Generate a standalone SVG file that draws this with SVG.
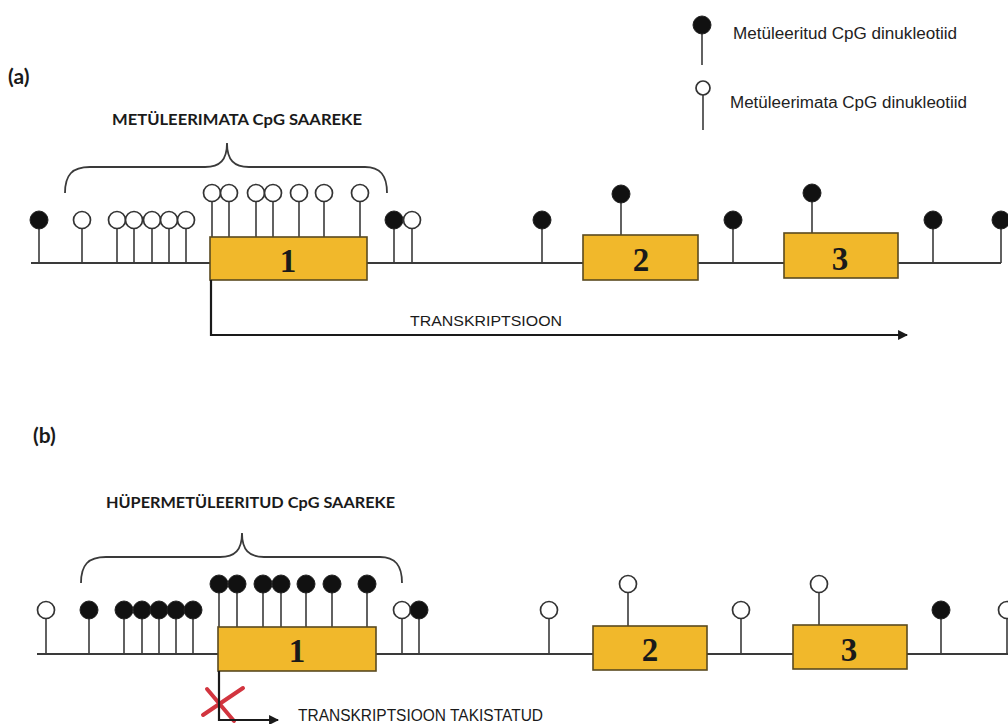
<svg xmlns="http://www.w3.org/2000/svg" width="1008" height="724" viewBox="0 0 1008 724">
<defs>
<style>
.bg{fill:#ffffff}
.dna{stroke:#3a3a3a;stroke-width:1.8;fill:none}
.stem{stroke:#3a3a3a;stroke-width:1.6}
.met{fill:#111111;stroke:#222222;stroke-width:1}
.unm{fill:#ffffff;stroke:#333333;stroke-width:1.7}
.exon{fill:#F1B82B;stroke:#5a4a20;stroke-width:1.6}
.num{font-family:"Liberation Serif","Times New Roman",serif;font-weight:bold;font-size:33px;fill:#1a1a1a;text-anchor:middle}
.lbl{font-family:"Lato","Open Sans",sans-serif;font-weight:bold;fill:#1a1a1a}
.leg{font-family:"Liberation Sans",Arial,sans-serif;font-size:16px;fill:#222222}
.tx{font-family:"Liberation Sans",Arial,sans-serif;fill:#1a1a1a}
.brace{stroke:#3a3a3a;stroke-width:1.8;fill:none}
.arr{stroke:#1a1a1a;stroke-width:2.2;fill:none}
.cross{stroke:#d2353f;stroke-width:4;stroke-linecap:round}
</style>
<marker id="ah" viewBox="0 0 10 10" refX="9" refY="5" markerWidth="4.5" markerHeight="4.5" orient="auto" markerUnits="strokeWidth">
<path d="M0,0 L10,5 L0,10 z" fill="#1a1a1a"/>
</marker>
</defs>
<rect class="bg" x="0" y="0" width="1008" height="724"/>

<g id="legend">
<g id="legend-met">
<line class="stem" x1="702" y1="32" x2="702" y2="65"/>
<circle class="met" cx="702" cy="25" r="9"/>
<text class="leg" x="733" y="39" textLength="224" lengthAdjust="spacingAndGlyphs">Metüleeritud CpG dinukleotiid</text>
</g>
<g id="legend-unmet">
<line class="stem" x1="703" y1="95" x2="703" y2="130"/>
<circle class="unm" cx="703" cy="88" r="7"/>
<text class="leg" x="730" y="108" textLength="237" lengthAdjust="spacingAndGlyphs">Metüleerimata CpG dinukleotiid</text>
</g>
</g>

<!-- Panel (a) -->
<g id="panel-a">
<text id="label-a" class="lbl" x="8" y="84" font-size="21">(a)</text>
<g id="island-a">
<text class="lbl" x="112" y="125" font-size="16" textLength="250" lengthAdjust="spacingAndGlyphs">METÜLEERIMATA CpG SAAREKE</text>
<path class="brace" d="M65,193 C65,175 72,167 90,167 L205,167 C220,167 227,160 227,143 C227,160 234,167 249,167 L365,167 C380,167 387,175 387,193"/>
</g>
<line id="dna-a" class="dna" x1="31" y1="263" x2="1001" y2="263"/>
<g id="cpg-a">
<line class="stem" x1="39" y1="225" x2="39" y2="263"/><circle class="met" cx="39" cy="220" r="9"/>
<line class="stem" x1="82" y1="225" x2="82" y2="263"/><circle class="unm" cx="82" cy="220" r="8.5"/>
<line class="stem" x1="117" y1="225" x2="117" y2="263"/>
<line class="stem" x1="134" y1="225" x2="134" y2="263"/>
<line class="stem" x1="152" y1="225" x2="152" y2="263"/>
<line class="stem" x1="169" y1="225" x2="169" y2="263"/>
<line class="stem" x1="186" y1="225" x2="186" y2="263"/>
<circle class="unm" cx="117" cy="220" r="8.5"/>
<circle class="unm" cx="134" cy="220" r="8.5"/>
<circle class="unm" cx="152" cy="220" r="8.5"/>
<circle class="unm" cx="169" cy="220" r="8.5"/>
<circle class="unm" cx="186" cy="220" r="8.5"/>
<line class="stem" x1="212" y1="198" x2="212" y2="237"/>
<line class="stem" x1="229" y1="198" x2="229" y2="237"/>
<line class="stem" x1="256" y1="198" x2="256" y2="237"/>
<line class="stem" x1="273" y1="198" x2="273" y2="237"/>
<line class="stem" x1="299" y1="198" x2="299" y2="237"/>
<line class="stem" x1="324" y1="198" x2="324" y2="237"/>
<line class="stem" x1="360" y1="198" x2="360" y2="237"/>
<circle class="unm" cx="212" cy="193" r="8.5"/>
<circle class="unm" cx="229" cy="193" r="8.5"/>
<circle class="unm" cx="256" cy="193" r="8.5"/>
<circle class="unm" cx="273" cy="193" r="8.5"/>
<circle class="unm" cx="299" cy="193" r="8.5"/>
<circle class="unm" cx="324" cy="193" r="8.5"/>
<circle class="unm" cx="360" cy="193" r="8.5"/>
<line class="stem" x1="394" y1="225" x2="394" y2="263"/>
<line class="stem" x1="412" y1="225" x2="412" y2="263"/>
<circle class="met" cx="394" cy="220" r="9"/>
<circle class="unm" cx="412" cy="220" r="8.5"/>
<line class="stem" x1="542" y1="225" x2="542" y2="263"/><circle class="met" cx="542" cy="220" r="9"/>
<line class="stem" x1="621" y1="198" x2="621" y2="235"/><circle class="met" cx="621" cy="194" r="9"/>
<line class="stem" x1="733" y1="225" x2="733" y2="263"/><circle class="met" cx="733" cy="220" r="9"/>
<line class="stem" x1="812" y1="198" x2="812" y2="233"/><circle class="met" cx="812" cy="193" r="9"/>
<line class="stem" x1="933" y1="225" x2="933" y2="263"/><circle class="met" cx="933" cy="220" r="9"/>
<line class="stem" x1="1001" y1="225" x2="1001" y2="263"/><circle class="met" cx="1001" cy="220" r="9"/>
</g>
<g id="exon-a1"><rect class="exon" x="210" y="237" width="157" height="43"/><text class="num" x="288" y="272">1</text></g>
<g id="exon-a2"><rect class="exon" x="583" y="235" width="115" height="45"/><text class="num" x="641" y="271">2</text></g>
<g id="exon-a3"><rect class="exon" x="784" y="233" width="114" height="45"/><text class="num" x="840" y="270">3</text></g>
<text id="tx-a" class="tx" x="410" y="326" font-size="14" textLength="152" lengthAdjust="spacingAndGlyphs">TRANSKRIPTSIOON</text>
</g>

<!-- Panel (b) -->
<g id="panel-b">
<text id="label-b" class="lbl" x="33" y="443" font-size="21">(b)</text>
<g id="island-b">
<text class="lbl" x="106" y="508" font-size="16" textLength="289" lengthAdjust="spacingAndGlyphs">HÜPERMETÜLEERITUD CpG SAAREKE</text>
<path class="brace" d="M81,583 C81,565 88,557 106,557 L220,557 C235,557 242,550 242,533 C242,550 249,557 264,557 L380,557 C395,557 402,565 402,583"/>
</g>
<line id="dna-b" class="dna" x1="37" y1="654" x2="1008" y2="654"/>
<g id="cpg-b">
<line class="stem" x1="46" y1="615" x2="46" y2="654"/><circle class="unm" cx="46" cy="610" r="8.5"/>
<line class="stem" x1="89" y1="615" x2="89" y2="654"/><circle class="met" cx="89" cy="610" r="9"/>
<line class="stem" x1="124" y1="615" x2="124" y2="654"/>
<line class="stem" x1="142" y1="615" x2="142" y2="654"/>
<line class="stem" x1="159" y1="615" x2="159" y2="654"/>
<line class="stem" x1="176" y1="615" x2="176" y2="654"/>
<line class="stem" x1="193" y1="615" x2="193" y2="654"/>
<circle class="met" cx="124" cy="610" r="9"/>
<circle class="met" cx="142" cy="610" r="9"/>
<circle class="met" cx="159" cy="610" r="9"/>
<circle class="met" cx="176" cy="610" r="9"/>
<circle class="met" cx="193" cy="610" r="9"/>
<line class="stem" x1="219" y1="588" x2="219" y2="627"/>
<line class="stem" x1="237" y1="588" x2="237" y2="627"/>
<line class="stem" x1="263" y1="588" x2="263" y2="627"/>
<line class="stem" x1="281" y1="588" x2="281" y2="627"/>
<line class="stem" x1="306" y1="588" x2="306" y2="627"/>
<line class="stem" x1="332" y1="588" x2="332" y2="627"/>
<line class="stem" x1="367" y1="588" x2="367" y2="627"/>
<circle class="met" cx="219" cy="584" r="9"/>
<circle class="met" cx="237" cy="584" r="9"/>
<circle class="met" cx="263" cy="584" r="9"/>
<circle class="met" cx="281" cy="584" r="9"/>
<circle class="met" cx="306" cy="584" r="9"/>
<circle class="met" cx="332" cy="584" r="9"/>
<circle class="met" cx="367" cy="584" r="9"/>
<line class="stem" x1="402" y1="615" x2="402" y2="654"/>
<line class="stem" x1="419" y1="615" x2="419" y2="654"/>
<circle class="unm" cx="402" cy="610" r="8.5"/>
<circle class="met" cx="419" cy="610" r="9"/>
<line class="stem" x1="549" y1="615" x2="549" y2="654"/><circle class="unm" cx="549" cy="610" r="8.5"/>
<line class="stem" x1="628" y1="589" x2="628" y2="626"/><circle class="unm" cx="628" cy="584" r="8.5"/>
<line class="stem" x1="741" y1="615" x2="741" y2="654"/><circle class="unm" cx="741" cy="610" r="8.5"/>
<line class="stem" x1="819" y1="589" x2="819" y2="625"/><circle class="unm" cx="819" cy="584" r="8.5"/>
<line class="stem" x1="941" y1="615" x2="941" y2="654"/><circle class="met" cx="941" cy="610" r="9"/>
<line class="stem" x1="1007" y1="615" x2="1007" y2="654"/><circle class="unm" cx="1007" cy="610" r="8.5"/>
</g>
<g id="exon-b1"><rect class="exon" x="218" y="627" width="158" height="44"/><text class="num" x="297" y="662">1</text></g>
<g id="exon-b2"><rect class="exon" x="593" y="626" width="114" height="44"/><text class="num" x="650" y="661">2</text></g>
<g id="exon-b3"><rect class="exon" x="793" y="625" width="114" height="44"/><text class="num" x="849" y="661">3</text></g>
<text id="tx-b" class="tx" x="298" y="721" font-size="16" textLength="245" lengthAdjust="spacingAndGlyphs">TRANSKRIPTSIOON TAKISTATUD</text>
<g id="block-x">
<line class="cross" x1="203" y1="715" x2="243" y2="688"/>
<line class="cross" x1="207" y1="689" x2="234" y2="721"/>
</g>
</g>

<g id="connectors">
<path class="arr" d="M211,280 L211,335 L907,335" marker-end="url(#ah)"/>
<path class="arr" d="M219,671 L219,720 L278,720" marker-end="url(#ah)"/>
</g>
</svg>
